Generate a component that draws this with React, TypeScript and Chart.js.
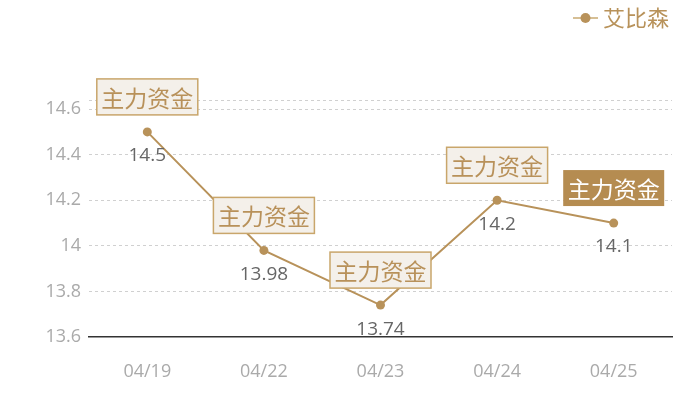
import React, { useRef, useEffect } from 'react';
import Chart from 'chart.js/auto';

// 데이터
const categories = ['04/19', '04/22', '04/23', '04/24', '04/25'];
const prices = [14.5, 13.98, 13.74, 14.2, 14.1];
const yTicks = [13.6, 13.8, 14, 14.2, 14.4, 14.6, 14.64];
const flagText = '主力资金';
const seriesName = '艾比森';

const GOLD = '#b8925a';
const FONT = '"Open Sans", "Noto Sans CJK SC", sans-serif';
const CJK = '"Noto Sans CJK SC", sans-serif';

const labelPlugin = {
  id: 'labelPlugin',
  afterDatasetsDraw(chart: any) {
    const ctx = chart.ctx;
    const meta = chart.getDatasetMeta(0);
    ctx.save();
    meta.data.forEach((pt: any, i: number) => {
      const x = pt.x;
      const y = pt.y;
      // 값 라벨
      ctx.font = '19px ' + FONT;
      ctx.fillStyle = '#666';
      ctx.textAlign = 'center';
      ctx.textBaseline = 'middle';
      ctx.fillText(String(prices[i]), x, y + 24);

      // 주력자금 박스
      ctx.font = '23px ' + CJK;
      const w = ctx.measureText(flagText).width + 9;
      const h = 36;
      const cy = y - 35;
      const last = i === meta.data.length - 1;
      ctx.fillStyle = last ? '#b58c51' : '#f4f0ea';
      ctx.fillRect(x - w / 2, cy - h / 2, w, h);
      if (!last) {
        ctx.strokeStyle = '#c9a66b';
        ctx.lineWidth = 1.5;
        ctx.strokeRect(x - w / 2, cy - h / 2, w, h);
      }
      ctx.fillStyle = last ? '#fff' : '#b8915a';
      ctx.fillText(flagText, x, cy + 1);
    });

    // 범례
    ctx.strokeStyle = '#d6bf95';
    ctx.lineWidth = 2;
    ctx.beginPath();
    ctx.moveTo(573, 18);
    ctx.lineTo(598, 18);
    ctx.stroke();
    ctx.fillStyle = GOLD;
    ctx.beginPath();
    ctx.arc(585.5, 18, 5, 0, Math.PI * 2);
    ctx.fill();
    ctx.font = '22px ' + CJK;
    ctx.textAlign = 'left';
    ctx.textBaseline = 'middle';
    ctx.fillText(seriesName, 603, 18);
    ctx.restore();
  },
};

const App: React.FC = () => {
  const canvasRef = useRef<HTMLCanvasElement>(null);
  const chartRef = useRef<Chart | null>(null);

  useEffect(() => {
    if (!canvasRef.current) return;
    if (chartRef.current) chartRef.current.destroy();

    chartRef.current = new Chart(canvasRef.current, {
      type: 'line',
      data: {
        labels: categories,
        datasets: [
          {
            label: seriesName,
            data: prices,
            borderColor: GOLD,
            backgroundColor: GOLD,
            borderWidth: 2,
            pointRadius: 4.5,
            pointBackgroundColor: GOLD,
            pointBorderWidth: 0,
            tension: 0,
          },
        ],
      },
      options: {
        animation: false,
        responsive: true,
        maintainAspectRatio: false,
        layout: { padding: { top: 100, right: 28, left: 0, bottom: 0 } },
        plugins: {
          legend: { display: false },
          tooltip: { enabled: false },
        },
        scales: {
          x: {
            offset: true,
            grid: { display: false, drawTicks: false },
            border: { display: true, color: '#333', width: 1.5 },
            ticks: { color: '#aaa', font: { size: 18, family: FONT }, padding: 24 },
            afterFit: (s: any) => {
              s.height = 63;
            },
          },
          y: {
            min: yTicks[0],
            max: yTicks[yTicks.length - 1],
            afterBuildTicks: (s: any) => {
              s.ticks = yTicks.map((v) => ({ value: v }));
            },
            ticks: {
              color: '#aaa',
              font: { size: 18, family: FONT },
              padding: 8,
              callback: (v: any) => (v > 14.61 ? '' : String(Number(Number(v).toFixed(1)))),
            },
            grid: {
              drawTicks: false,
              color: (c: any) => (c.tick && c.tick.value < 13.61 ? 'rgba(0,0,0,0)' : '#d0d0d0'),
              lineWidth: 1,
            },
            border: { display: false, dash: [3, 3] },
            afterFit: (s: any) => {
              s.width = 89;
            },
          },
        },
      },
      plugins: [labelPlugin],
    });

    return () => {
      if (chartRef.current) {
        chartRef.current.destroy();
        chartRef.current = null;
      }
    };
  }, []);

  return (
    <div style={{ position: 'absolute', left: 0, top: 0, width: 700, height: 400, background: '#fff' }}>
      <canvas ref={canvasRef} />
    </div>
  );
};

export default App;
